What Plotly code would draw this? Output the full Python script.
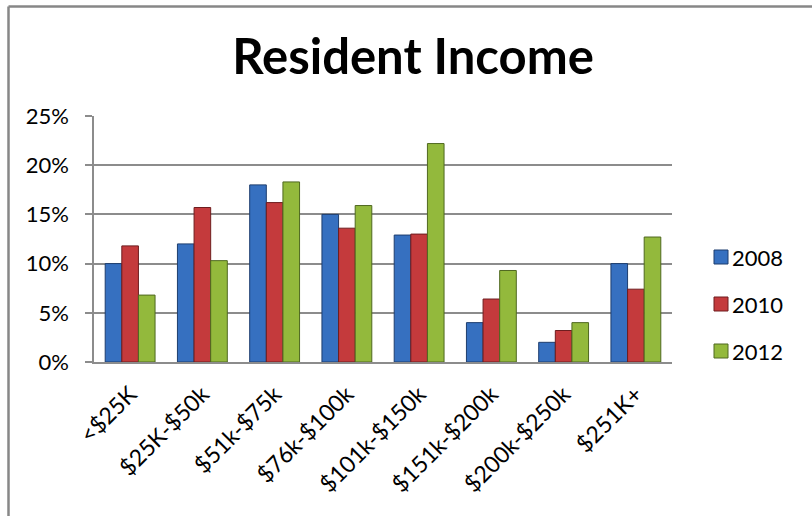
import plotly.graph_objects as go

categories = ["<$25K", "$25K-$50k", "$51k-$75k", "$76k-$100k",
              "$101k-$150k", "$151k-$200k", "$200k-$250k", "$251K+"]
series_names = ["2008", "2010", "2012"]
values_2008 = [10.0, 12.0, 18.0, 15.0, 12.9, 4.0, 2.0, 10.0]
values_2010 = [11.8, 15.7, 16.2, 13.6, 13.0, 6.4, 3.2, 7.4]
values_2012 = [6.8, 10.3, 18.3, 15.9, 22.2, 9.3, 4.0, 12.7]
y_ticks = [0, 5, 10, 15, 20, 25]
y_tick_labels = ["0%", "5%", "10%", "15%", "20%", "25%"]

colors = ["#3670c0", "#c43a3c", "#93b93c"]
edges = ["#1d3d6e", "#6e1d1f", "#4f6820"]
series_values = [values_2008, values_2010, values_2012]

W, H = 812, 516
L, R, T, B = 94, 140, 116, 154
PW, PH = W - L - R, H - T - B

def px_x(x):
    return (x - L) / PW

def px_y(y):
    return (H - B - y) / PH

FONT = "Lato"
fig = go.Figure()
for name, vals, c, e in zip(series_names, series_values, colors, edges):
    fig.add_trace(go.Bar(
        x=categories, y=vals, name=name,
        marker=dict(color=c, line=dict(color=e, width=1)),
        showlegend=False,
    ))

# custom legend (square + label) drawn as shapes/annotations
legend_y = [257, 304, 351]
for name, c, e, ly in zip(series_names, colors, edges, legend_y):
    fig.add_shape(type="rect", xref="paper", yref="paper",
                  x0=px_x(714), x1=px_x(728), y0=px_y(ly + 7), y1=px_y(ly - 7),
                  fillcolor=c, line=dict(color=e, width=1))
    fig.add_annotation(x=px_x(730), y=px_y(ly), xref="paper", yref="paper",
                       text=name, showarrow=False, xanchor="left", yanchor="middle",
                       font=dict(family=FONT, size=22, color="#000000"))

# outer chart border (left and top edges visible)
border = "#878787"
fig.add_shape(type="line", xref="paper", yref="paper",
              x0=px_x(8.5), x1=px_x(8.5), y0=px_y(6.5), y1=px_y(530),
              line=dict(color=border, width=2.5))
fig.add_shape(type="line", xref="paper", yref="paper",
              x0=px_x(8.5), x1=px_x(830), y0=px_y(6.5), y1=px_y(6.5),
              line=dict(color=border, width=2.5))

grid = "#8c8c8c"
fig.update_layout(
    width=W, height=H,
    margin=dict(l=L, r=R, t=T, b=B),
    paper_bgcolor="white", plot_bgcolor="white",
    barmode="group", bargap=0.31, bargroupgap=0,
    title=dict(text="<b>Resident Income</b>", x=413 / W, xref="container",
               y=1 - 57 / H, yref="container", xanchor="center", yanchor="middle",
               font=dict(family=FONT, size=49, color="#000000")),
    font=dict(family=FONT, color="#000000"),
    xaxis=dict(tickangle=-45, tickfont=dict(family=FONT, size=23),
               showgrid=False, showline=True, linecolor=grid, linewidth=1.5,
               ticks="", ticklabelstandoff=8),
    yaxis=dict(range=[0, 25], tickmode="array", tickvals=y_ticks, ticktext=y_tick_labels,
               tickfont=dict(family=FONT, size=22),
               showgrid=True, gridcolor=grid, gridwidth=1.5,
               showline=True, linecolor=grid, linewidth=1.5,
               ticks="outside", ticklen=7, tickcolor=grid, tickwidth=1.5,
               ticklabelstandoff=12, zeroline=False),
)

fig.write_html("out.html")
